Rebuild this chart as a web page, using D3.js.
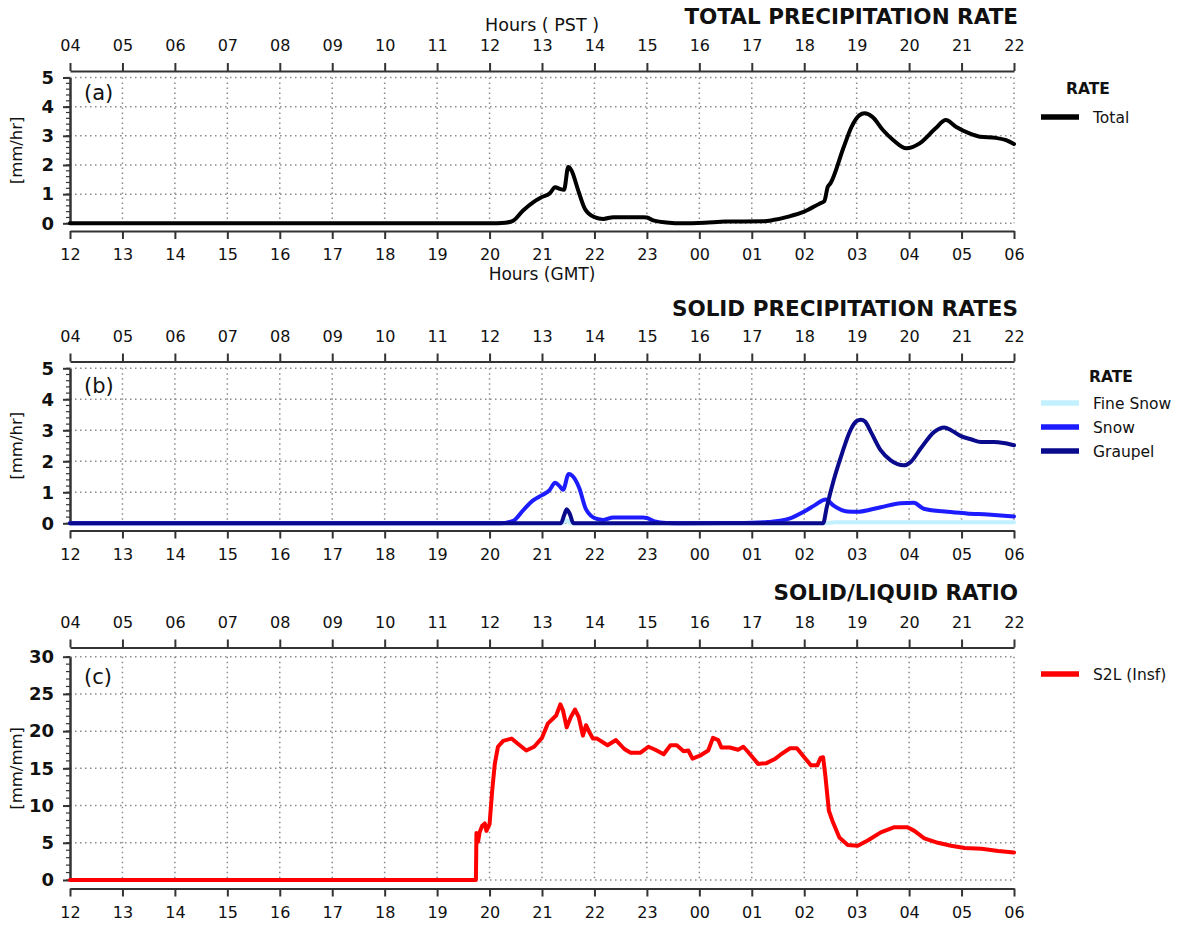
<!DOCTYPE html>
<html>
<head>
<meta charset="utf-8">
<script src="https://cdn.jsdelivr.net/npm/d3@7"></script>
<style>
  html, body { margin: 0; padding: 0; background: #fff; }
  svg { display: block; }
  text { font-family: "DejaVu Sans", sans-serif; fill: #111; }
</style>
</head>
<body>
<script>
// ---------------- DATA ----------------
const gmtLabels = ["12","13","14","15","16","17","18","19","20","21","22","23","00","01","02","03","04","05","06"];
const pstLabels = ["04","05","06","07","08","09","10","11","12","13","14","15","16","17","18","19","20","21","22"];
const rateTicks = [0, 1, 2, 3, 4, 5];
const ratioTicks = [0, 5, 10, 15, 20, 25, 30];

// [GMT hour (continuing past 24), value]
const totalRate = [[12,0],[20.0,0],[20.3,0.02],[20.45,0.09],[20.64,0.44],[20.83,0.72],[21.0,0.9],[21.15,1.03],[21.25,1.24],[21.34,1.18],[21.42,1.15],[21.5,1.93],[21.56,1.82],[21.69,1.13],[21.82,0.49],[22.0,0.21],[22.17,0.15],[22.36,0.21],[22.93,0.21],[23.0,0.2],[23.12,0.1],[23.37,0.03],[23.7,0.0],[24.1,0.02],[24.5,0.06],[25.2,0.07],[25.4,0.11],[25.7,0.23],[26.0,0.4],[26.3,0.68],[26.38,0.75],[26.45,1.25],[26.5,1.37],[26.75,2.6],[26.9,3.3],[27.05,3.7],[27.15,3.77],[27.3,3.65],[27.5,3.2],[27.7,2.85],[27.95,2.57],[28.2,2.74],[28.5,3.25],[28.7,3.54],[28.9,3.3],[29.15,3.08],[29.35,2.97],[29.65,2.93],[29.85,2.85],[30.0,2.72]];

const fineSnowRate = [[12,0],[21.38,0],[21.47,0.1],[21.56,0],[26.4,0],[26.6,0.03],[30,0.03]];

const snowRate = [[12,0],[20.2,0],[20.45,0.08],[20.64,0.42],[20.83,0.74],[21.0,0.91],[21.14,1.06],[21.25,1.31],[21.34,1.19],[21.4,1.08],[21.51,1.59],[21.58,1.53],[21.71,1.14],[21.84,0.45],[22.03,0.15],[22.17,0.11],[22.36,0.19],[22.93,0.19],[23.0,0.17],[23.15,0.06],[23.37,0.01],[23.7,0],[24.5,0.01],[25.0,0.02],[25.3,0.04],[25.54,0.08],[25.73,0.16],[26.0,0.38],[26.19,0.57],[26.41,0.77],[26.56,0.57],[26.82,0.38],[27.0,0.37],[27.46,0.52],[27.84,0.65],[28.09,0.66],[28.28,0.47],[28.73,0.37],[29.1,0.32],[29.5,0.28],[30.0,0.22]];

const graupelRate = [[12,0],[21.36,0],[21.42,0.25],[21.47,0.45],[21.53,0.3],[21.6,0],[26.36,0],[26.43,0.52],[26.56,1.38],[26.72,2.25],[26.88,3.0],[27.0,3.3],[27.08,3.34],[27.16,3.28],[27.27,2.95],[27.46,2.35],[27.65,2.03],[27.9,1.87],[28.03,1.98],[28.22,2.41],[28.48,2.95],[28.67,3.09],[28.8,3.0],[28.99,2.81],[29.18,2.71],[29.37,2.62],[29.62,2.62],[29.8,2.59],[30.0,2.52]];

const s2lRatio = [[12,0],[19.74,0],[19.75,6.3],[19.78,5.1],[19.81,6.4],[19.86,7.3],[19.91,7.6],[19.94,6.6],[20.0,7.5],[20.05,12.0],[20.1,15.6],[20.16,17.9],[20.26,18.7],[20.42,19.0],[20.54,18.3],[20.7,17.4],[20.85,17.9],[21.0,19.1],[21.11,21.0],[21.27,22.1],[21.35,23.6],[21.4,22.8],[21.47,20.5],[21.55,21.9],[21.63,22.9],[21.7,21.9],[21.78,19.4],[21.84,20.8],[21.9,19.9],[21.97,19.0],[22.05,19.0],[22.25,18.1],[22.41,18.8],[22.57,17.6],[22.69,17.1],[22.88,17.1],[23.03,17.9],[23.16,17.5],[23.32,16.9],[23.45,18.1],[23.57,18.1],[23.7,17.3],[23.79,17.4],[23.87,16.3],[24.01,16.7],[24.17,17.4],[24.26,19.1],[24.36,18.8],[24.42,17.8],[24.58,17.8],[24.74,17.5],[24.84,17.9],[24.93,17.2],[25.12,15.6],[25.28,15.7],[25.45,16.3],[25.54,16.8],[25.73,17.7],[25.86,17.7],[26.0,16.5],[26.13,15.4],[26.25,15.4],[26.31,16.4],[26.36,16.5],[26.4,14.2],[26.47,9.3],[26.54,7.9],[26.67,5.7],[26.83,4.7],[27.02,4.6],[27.21,5.3],[27.46,6.4],[27.72,7.1],[27.97,7.1],[28.1,6.6],[28.29,5.6],[28.55,5.0],[28.8,4.6],[29.06,4.3],[29.38,4.2],[29.7,3.9],[30.0,3.7]];

// ---------------- CHART ----------------
const W = 1188, H = 928;
const svg = d3.select("body").append("svg").attr("width", W).attr("height", H);
svg.append("rect").attr("width", W).attr("height", H).attr("fill", "#fff");

const x = d3.scaleLinear().domain([12, 30]).range([70, 1014]);
const tickHours = d3.range(12, 31);
const AX = "#333";
const GRID = "#8a8a8a";

function panel(cfg) {
  const y = d3.scaleLinear().domain([0, cfg.yMax]).range([cfg.y0, cfg.yTop]);
  const g = svg.append("g");

  // grid
  g.append("g").selectAll("line").data(tickHours.slice(1)).join("line")
    .attr("x1", d => x(d)).attr("x2", d => x(d))
    .attr("y1", y(cfg.yMax)).attr("y2", y(0))
    .attr("stroke", GRID).attr("stroke-width", 1.5).attr("stroke-dasharray", "1.5,3.5");
  g.append("g").selectAll("line").data(cfg.yTicks).join("line")
    .attr("x1", x(12)).attr("x2", x(30))
    .attr("y1", d => y(d)).attr("y2", d => y(d))
    .attr("stroke", GRID).attr("stroke-width", 1.5).attr("stroke-dasharray", "1.5,3.5");

  // top axis (PST)
  const top = g.append("g").attr("transform", `translate(0,${cfg.axTop})`)
    .call(d3.axisTop(x).tickValues(tickHours).tickFormat((d, i) => pstLabels[i])
      .tickSize(8).tickSizeOuter(0).tickPadding(12));
  // bottom axis (GMT)
  const bot = g.append("g").attr("transform", `translate(0,${cfg.axBot})`)
    .call(d3.axisBottom(x).tickValues(tickHours).tickFormat((d, i) => gmtLabels[i])
      .tickSize(8).tickSizeOuter(0).tickPadding(10));
  [top, bot].forEach(a => {
    a.select(".domain").attr("stroke", AX).attr("stroke-width", 2.2);
    a.selectAll(".tick line").attr("stroke", AX).attr("stroke-width", 2);
    a.selectAll("text").attr("font-family", "DejaVu Sans").attr("font-size", 16).attr("fill", "#111");
  });

  // left axis
  const minor = d3.range(0, cfg.yMax + 1e-9, cfg.minorStep);
  g.append("g").selectAll("line").data(minor).join("line")
    .attr("x1", 66).attr("x2", 70).attr("y1", d => y(d)).attr("y2", d => y(d))
    .attr("stroke", AX).attr("stroke-width", 1.2);
  const left = g.append("g").attr("transform", `translate(70,0)`)
    .call(d3.axisLeft(y).tickValues(cfg.yTicks).tickFormat(d3.format("d"))
      .tickSize(7).tickSizeOuter(0).tickPadding(9));
  left.select(".domain").attr("stroke", AX).attr("stroke-width", 2.5);
  left.selectAll(".tick line").attr("stroke", AX).attr("stroke-width", 2);
  left.selectAll("text").attr("font-family", "DejaVu Sans").attr("font-size", 18)
    .attr("font-weight", "bold").attr("fill", "#111");

  // y label
  svg.append("text")
    .attr("transform", `translate(22,${(y(0) + y(cfg.yMax)) / 2}) rotate(-90)`)
    .attr("text-anchor", "middle").attr("font-size", 16.5).text(cfg.yLabel);

  // panel letter
  svg.append("text").attr("x", 84).attr("y", cfg.letterY).attr("font-size", 21).text(cfg.letter);

  // title
  svg.append("text").attr("x", 1018).attr("y", cfg.titleY).attr("text-anchor", "end")
    .attr("font-size", 21.5).attr("font-weight", "bold").text(cfg.title);

  // series
  cfg.series.forEach(s => {
    const line = d3.line().x(d => x(d[0])).y(d => y(d[1]))
      .curve(s.linear ? d3.curveLinear : d3.curveMonotoneX);
    g.append("path").datum(s.data).attr("d", line).attr("fill", "none")
      .attr("stroke", s.color).attr("stroke-width", s.width || 4)
      .attr("stroke-linejoin", "round").attr("stroke-linecap", "round");
  });

  // legend
  if (cfg.legendTitle) {
    svg.append("text").attr("x", cfg.legendTitleX).attr("y", cfg.legendTitleY)
      .attr("font-size", 15.5).attr("font-weight", "bold").text(cfg.legendTitle);
  }
  cfg.series.forEach((s, i) => {
    const ly = cfg.legendY[i];
    svg.append("line").attr("x1", 1041).attr("x2", 1079).attr("y1", ly).attr("y2", ly)
      .attr("stroke", s.color).attr("stroke-width", 5.5);
    svg.append("text").attr("x", 1093).attr("y", ly + 5.5).attr("font-size", 15.5).text(s.name);
  });
  return y;
}

// Panel (a)
panel({
  yMax: 5, yTicks: rateTicks, minorStep: 0.2, yTop: 77.5, y0: 223.3, axTop: 71, axBot: 231,
  yLabel: "[mm/hr]", letter: "(a)", letterY: 100, title: "TOTAL PRECIPITATION RATE", titleY: 24,
  legendTitle: "RATE", legendTitleX: 1066, legendTitleY: 93.5, legendY: [117],
  series: [{ name: "Total", data: totalRate, color: "#000" }]
});
svg.append("text").attr("x", 542).attr("y", 31).attr("text-anchor", "middle")
  .attr("font-size", 17.5).text("Hours ( PST )");
svg.append("text").attr("x", 542).attr("y", 280).attr("text-anchor", "middle")
  .attr("font-size", 17).text("Hours (GMT)");

// Panel (b)
panel({
  yMax: 5, yTicks: rateTicks, minorStep: 0.2, yTop: 368.3, y0: 523.3, axTop: 361.5, axBot: 530.5,
  yLabel: "[mm/hr]", letter: "(b)", letterY: 393, title: "SOLID PRECIPITATION RATES", titleY: 316,
  legendTitle: "RATE", legendTitleX: 1089, legendTitleY: 381.5, legendY: [403, 427, 451],
  series: [
    { name: "Fine Snow", data: fineSnowRate, color: "#c2f0ff" },
    { name: "Snow", data: snowRate, color: "#1c1cff" },
    { name: "Graupel", data: graupelRate, color: "#0a0a8c" }
  ]
});

// Panel (c)
panel({
  yMax: 30, yTicks: ratioTicks, minorStep: 1, yTop: 656.7, y0: 880, axTop: 647.5, axBot: 888.5,
  yLabel: "[mm/mm]", letter: "(c)", letterY: 684, title: "SOLID/LIQUID RATIO", titleY: 600,
  legendTitle: null, legendY: [674],
  series: [{ name: "S2L (Insf)", data: s2lRatio, color: "#ff0000", linear: true }]
});
</script>
</body>
</html>
